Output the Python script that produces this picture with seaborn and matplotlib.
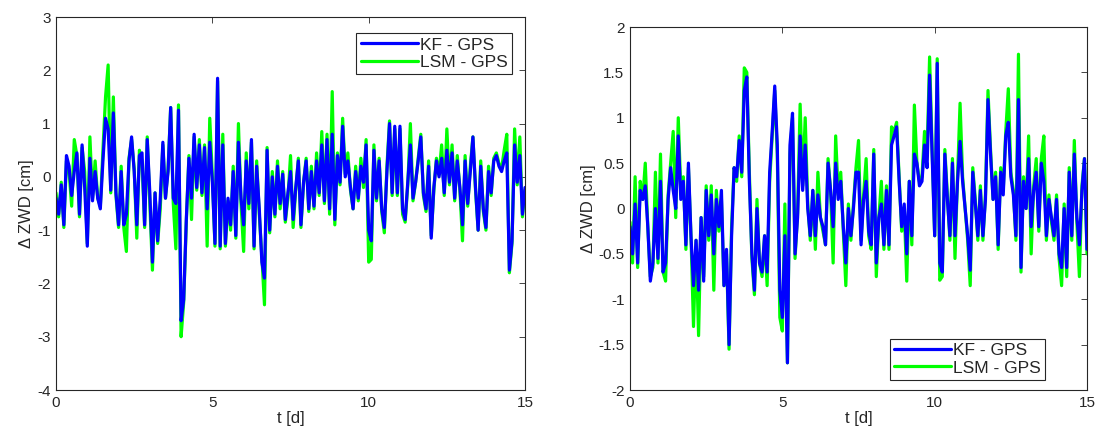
import numpy as np
import pandas as pd
import matplotlib
matplotlib.use("Agg")
import matplotlib.pyplot as plt
import seaborn as sns

# =========================
# DADOS (passo de 2 h)
# =========================

# painel esquerdo
kf_esq = [
    -0.4, -0.7, -0.15, -0.9, 0.4, 0.2, -0.35, 0.1, 0.45, -0.7, 0.6, -0.2,
    -1.3, 0.35, -0.45, 0.1, -0.4, -0.6, 0.3, 1.1, 0.9, -0.25, 1.2, -0.3,
    -0.9, 0.1, -0.9, -0.7, 0.3, 0.75, 0.1, -0.9, 0.4, 0.45, -0.9, 0.7,
    -0.3, -1.6, -0.3, -1.2, -0.4, 0.65, -0.4, 0.1, 1.3, -0.4, -0.5, 1.25,
    -2.7, -2.3, -0.8, 0.35, -0.4, 0.8, -0.2, 0.6, -0.3, 0.55, -0.6, 0.65,
    -0.1, -1.25, 1.85, -1.3, 0.6, -1.25, -0.4, -0.9, 0.1, -1.1, 0.65, -0.4,
    -0.9, 0.3, -0.5, 0.7, -1.3, 0.2, -0.6, -1.6, -1.9, 0.5, -1.0, 0.0,
    -0.7, 0.2, -0.5, 0.05, -0.8, -0.3, 0.1, -0.8, -0.2, 0.3, -0.9, -0.1,
    0.3, -0.6, 0.1, -0.55, 0.3, -0.3, 0.6, -0.45, 0.7, -0.6, 0.8, -0.8,
    0.4, -0.1, 0.95, 0.0, 0.3, -0.2, -0.6, 0.1, -0.4, 0.2, -0.1, 0.6,
    -1.0, -1.2, 0.5, -0.4, 0.3, -0.6, -0.95, 0.1, 1.0, -0.3, 0.95, -0.3,
    0.95, -0.6, -0.8, -0.1, 0.6, -0.4, -0.1, 0.3, 0.75, -0.3, -0.6, 0.2,
    -1.15, -0.2, 0.3, 0.0, 0.35, -0.3, 0.5, -0.1, 0.45, -0.4, 0.3, -0.2,
    -0.9, 0.3, -0.5, 0.1, 0.75, -0.2, -1.0, 0.2, -0.6, -0.95, 0.1, -0.3,
    0.3, 0.4, 0.2, 0.1, 0.3, 0.45, -1.75, -1.2, 0.6, -0.1, 0.4, -0.7,
    -0.2,
]
lsm_esq = [
    -0.3, -0.75, -0.1, -0.95, 0.3, 0.1, -0.55, 0.7, 0.4, -0.75, 0.55, 0.1,
    -1.25, 0.75, -0.4, 0.3, -0.4, -0.55, 0.5, 1.5, 2.1, -0.3, 1.5, -0.35,
    -0.95, 0.2, -0.95, -1.4, 0.35, 0.7, 0.15, -1.15, 0.5, 0.3, -0.95, 0.75,
    -0.5, -1.75, -0.3, -1.25, -0.6, 0.6, -0.4, 0.15, 1.3, -0.5, -1.35, 1.35,
    -3.0, -2.35, -0.85, 0.4, -0.8, 0.75, -0.25, 0.7, -0.35, 0.6, -1.3, 1.1,
    0.0, -1.3, 1.8, -1.35, 0.8, -1.3, -0.45, -1.0, 0.2, -1.15, 1.0, -0.5,
    -1.4, 0.45, -0.6, 0.65, -1.35, 0.3, -0.7, -1.5, -2.4, 0.55, -1.05, 0.1,
    -0.75, 0.3, -0.6, 0.1, -0.85, -0.4, 0.4, -0.95, -0.25, 0.35, -0.95, -0.1,
    0.35, -0.65, 0.2, -0.6, 0.45, -0.35, 0.85, -0.5, 0.8, -0.7, 1.6, -0.9,
    0.45, -0.15, 1.1, 0.05, 0.45, -0.25, -0.6, 0.2, -0.45, 0.35, -0.2, 0.7,
    -1.6, -1.55, 0.6, -0.45, 0.35, -0.65, -1.05, 0.2, 1.05, -0.35, 0.9, -0.35,
    0.9, -0.7, -0.85, -0.15, 1.0, -0.45, -0.1, 0.35, 0.8, -0.35, -0.65, 0.3,
    -1.1, -0.25, 0.35, 0.05, 0.6, -0.35, 0.9, -0.15, 0.6, -0.45, 0.4, -0.25,
    -1.2, 0.4, -0.55, 0.2, 0.75, -0.25, -1.0, 0.3, -0.65, -1.0, 0.2, -0.35,
    0.35, 0.45, 0.25, 0.15, 0.5, 0.8, -1.8, -1.25, 0.9, -0.15, 0.75, -0.75,
    -0.25,
]

# painel direito
kf_dir = [
    -0.2, -0.5, 0.05, -0.6, 0.2, 0.1, 0.25, -0.2, -0.8, -0.6, 0.0, -0.55,
    0.3, -0.7, -0.6, 0.1, 0.45, 0.2, 0.0, 0.8, 0.1, 0.3, -0.4, 0.5,
    -0.3, -0.85, -0.35, -0.9, -0.1, -0.8, 0.2, -0.3, 0.15, -0.5, 0.1, -0.2,
    0.2, -0.85, -0.45, -1.5, -0.3, 0.45, 0.35, 0.75, 0.4, 1.3, 1.45, 0.3,
    -0.5, -0.9, 0.0, -0.6, -0.7, -0.3, -0.7, 0.4, 0.85, 1.35, 0.7, -0.9,
    -1.2, -0.3, -1.7, 0.7, 1.05, -0.5, -0.1, 0.8, 0.2, 0.7, 0.0, -0.3,
    0.2, -0.3, 0.15, -0.1, -0.2, -0.4, 0.5, 0.2, -0.2, 0.5, 0.1, 0.3,
    -0.2, -0.6, 0.0, -0.3, 0.0, 0.4, 0.4, -0.4, 0.1, 0.3, -0.25, -0.4,
    0.6, -0.6, -0.1, 0.05, -0.4, 0.2, -0.4, 0.7, 0.8, 0.9, 0.3, -0.2,
    0.05, -0.5, 0.3, -0.3, 0.6, 0.5, 0.25, 0.3, 0.7, 0.45, 1.47, 0.6,
    -0.3, 1.6, -0.6, -0.7, 0.6, 0.1, -0.3, 0.5, -0.3, 0.3, 0.74, 0.3,
    0.0, -0.3, -0.68, 0.4, 0.05, -0.3, 0.2, -0.3, 0.1, 1.2, 0.6, 0.1,
    0.35, -0.4, 0.4, 0.15, 0.8, 0.95, 0.35, 0.15, -0.3, 1.2, -0.65, 0.3,
    0.0, 0.55, -0.2, 0.2, 0.4, -0.2, 0.5, 0.3, -0.3, 0.1, -0.1, -0.3,
    0.1, -0.5, -0.65, 0.0, -0.65, 0.4, -0.3, 0.6, -0.1, -0.4, 0.2, 0.55,
    -0.45,
]
lsm_dir = [
    -0.15, -0.6, 0.35, -0.65, 0.3, 0.1, 0.5, -0.2, -0.75, -0.65, 0.4, -0.6,
    0.6, -0.7, -0.8, 0.15, 0.5, 0.85, -0.1, 1.0, 0.2, 0.35, -0.45, 0.45,
    -0.3, -1.3, -0.35, -1.4, -0.1, -0.75, 0.25, -0.35, 0.25, -0.9, 0.2, -0.25,
    0.1, -0.85, -0.5, -1.55, -0.2, 0.45, 0.3, 0.8, 0.35, 1.55, 1.5, 0.4,
    -0.55, -0.95, 0.1, -0.6, -0.75, -0.3, -0.85, 0.3, 0.8, 1.3, 0.6, -1.2,
    -1.35, 0.05, -1.7, 0.6, 1.0, -0.55, -0.05, 1.15, 0.25, 1.0, 0.05, -0.35,
    0.2, -0.45, 0.4, -0.1, -0.25, -0.4, 0.55, 0.2, -0.6, 0.8, 0.15, 0.4,
    -0.25, -0.85, 0.05, -0.35, 0.05, 0.45, 0.75, -0.35, 0.15, 0.55, -0.3, -0.45,
    0.65, -0.75, -0.1, 0.3, -0.45, 0.25, -0.45, 0.9, 0.85, 0.95, 0.35, -0.25,
    0.0, -0.8, 0.3, -0.4, 1.14, 0.5, 0.3, 0.35, 0.85, 0.6, 1.67, 0.65,
    -0.3, 1.65, -0.79, -0.75, 0.65, 0.15, -0.35, 0.55, -0.55, 0.35, 1.16, 0.35,
    0.0, -0.35, -0.85, 0.45, 0.1, -0.35, 0.25, -0.35, 0.15, 1.3, 0.65, 0.1,
    0.4, -0.45, 0.45, 0.2, 0.85, 1.32, 0.4, 0.2, -0.35, 1.7, -0.7, 0.35,
    0.0, 0.8, -0.5, 0.25, 0.55, -0.25, 0.55, 0.8, -0.35, 0.15, -0.15, -0.35,
    0.15, -0.55, -0.85, 0.05, -0.75, 0.45, -0.35, 0.75, -0.15, -0.75, 0.25, 0.55,
    -0.5,
]

t_dias = np.linspace(0, 15, len(kf_esq))

rotulo_kf = "KF - GPS"
rotulo_lsm = "LSM - GPS"

yticks_esq = [-4, -3, -2, -1, 0, 1, 2, 3]
yticks_dir = [-2, -1.5, -1, -0.5, 0, 0.5, 1, 1.5, 2]
ylabels_dir = ["-2", "-1.5", "-1", "-0.5", "0", "0.5", "1", "1.5", "2"]
xticks = [0, 5, 10, 15]

# =========================
# ESTILO
# =========================

sns.set_style("white")
plt.rcParams["font.family"] = ["Liberation Sans", "DejaVu Sans"]
plt.rcParams["axes.unicode_minus"] = False
plt.rcParams["axes.edgecolor"] = "#262626"
plt.rcParams["xtick.direction"] = "in"
plt.rcParams["ytick.direction"] = "in"

fig = plt.figure(figsize=(11.03, 4.41), dpi=100)
ax1 = fig.add_axes([0.0508, 0.1156, 0.4252, 0.8458])
ax2 = fig.add_axes([0.5712, 0.1156, 0.4143, 0.8231])


def desenha(ax, kf, lsm, loc, ancora, ylim, yticks, ylabels=None):
    sns.lineplot(x=t_dias, y=lsm, ax=ax, color="#00ff00", linewidth=2.3,
                 label=rotulo_lsm)
    sns.lineplot(x=t_dias, y=kf, ax=ax, color="#0000ff", linewidth=2.3,
                 label=rotulo_kf)
    ax.set_xlim(0, 15)
    ax.set_ylim(*ylim)
    ax.set_xticks(xticks)
    ax.set_yticks(yticks)
    if ylabels is not None:
        ax.set_yticklabels(ylabels)
    ax.set_xlabel("t [d]", fontsize=12, color="#262626", labelpad=1)
    ax.set_ylabel("\u0394 ZWD [cm]", fontsize=12, color="#262626", labelpad=2)
    ax.tick_params(labelsize=11, colors="#262626", length=4, width=0.6,
                   top=True, right=True, pad=4)
    for s in ax.spines.values():
        s.set_linewidth(0.8)
    h, l = ax.get_legend_handles_labels()
    leg = ax.legend(h[::-1], l[::-1], loc=loc, bbox_to_anchor=ancora,
                    fontsize=12.5, frameon=True, fancybox=False, framealpha=1,
                    edgecolor="#262626", handlelength=3.3, handletextpad=0.1,
                    borderpad=0.25, labelspacing=0.12, borderaxespad=0)
    leg.get_frame().set_linewidth(0.8)


desenha(ax1, kf_esq, lsm_esq, "upper right", (0.972, 0.957), (-4, 3), yticks_esq)
desenha(ax2, kf_dir, lsm_dir, "lower right", (0.908, 0.028), (-2, 2),
        yticks_dir, ylabels_dir)

fig.savefig("out.png", dpi=100)
